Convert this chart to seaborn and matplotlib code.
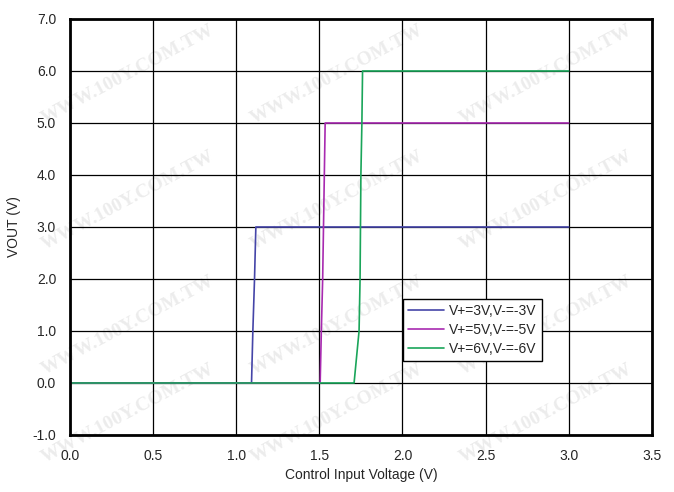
import numpy as np
import pandas as pd
import seaborn as sns
import matplotlib.pyplot as plt

# values
v3_x = [0.0, 1.092, 1.100, 1.110, 1.118, 3.0]
v3_y = [0.0, 0.0, 1.0, 2.0, 3.0, 3.0]
v5_x = [0.0, 1.505, 1.512, 1.520, 1.525, 1.530, 1.535, 3.0]
v5_y = [0.0, 0.0, 1.0, 2.0, 3.0, 4.0, 5.0, 5.0]
v6_x = [0.0, 1.709, 1.739, 1.745, 1.750, 1.756, 1.760, 3.0]
v6_y = [0.0, 0.0, 1.0, 2.0, 4.0, 5.0, 6.0, 6.0]
labels = ['V+=3V,V-=-3V', 'V+=5V,V-=-5V', 'V+=6V,V-=-6V']
colors = ['#4545a8', '#a82ab0', '#1aa55a']
x_ticks = [0.0, 0.5, 1.0, 1.5, 2.0, 2.5, 3.0, 3.5]
y_ticks = [-1.0, 0.0, 1.0, 2.0, 3.0, 4.0, 5.0, 6.0, 7.0]

sns.set_style('white')
plt.rcParams['font.family'] = ['Liberation Sans', 'DejaVu Sans']

fig = plt.figure(figsize=(6.74, 4.92), dpi=100)
ax = fig.add_axes([0.1039, 0.1159, 0.8631, 0.8455])
ax.patch.set_alpha(0)

# faint watermark behind the axes, kept whole inside the figure
for cy in [0.848, 0.593, 0.339, 0.16]:
    for cx in [0.19, 0.5, 0.81]:
        fig.text(cx, cy, 'WWW.100Y.COM.TW', rotation=28, color='#ececec',
                 fontsize=14, fontweight='bold', family='Liberation Serif',
                 ha='center', va='center', rotation_mode='anchor', zorder=-5)

series = [(v3_x, v3_y), (v5_x, v5_y), (v6_x, v6_y)]
for (xs, ys), lab, col in zip(series, labels, colors):
    df = pd.DataFrame({'x': xs, 'y': ys})
    sns.lineplot(data=df, x='x', y='y', sort=False, estimator=None,
                 color=col, linewidth=1.2, label=lab, ax=ax)

ax.set_xlim(0, 3.5)
ax.set_ylim(-1, 7)
ax.set_xticks(x_ticks)
ax.set_yticks(y_ticks)
ax.set_xticklabels([f'{t:.1f}' for t in x_ticks], fontsize=10)
ax.set_yticklabels([f'{t:.1f}' for t in y_ticks], fontsize=10)
ax.grid(True, color='black', linewidth=0.9)
ax.set_axisbelow(True)
for s in ax.spines.values():
    s.set_color('black')
    s.set_linewidth(2)
ax.tick_params(axis='both', direction='out', length=4, width=1, color='black', pad=6)

ax.set_xlabel('Control Input Voltage (V)', fontsize=10, labelpad=4)
ax.set_ylabel('VOUT (V)', fontsize=10, labelpad=8)

leg = ax.legend(loc='lower left', bbox_to_anchor=(0.572, 0.178), fontsize=10,
                frameon=True, fancybox=False, framealpha=1, edgecolor='black',
                handlelength=2.6, borderpad=0.35, labelspacing=0.35, handletextpad=0.4,
                borderaxespad=0)
leg.get_frame().set_linewidth(1.0)

plt.savefig('out.png', dpi=100)
plt.close()
